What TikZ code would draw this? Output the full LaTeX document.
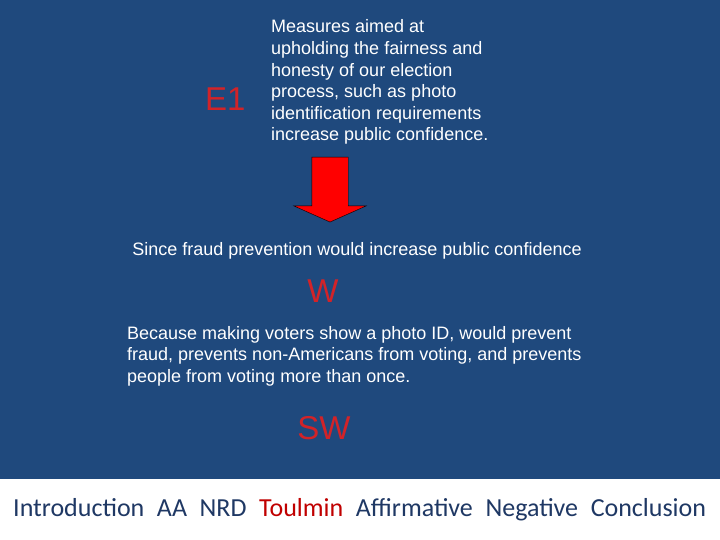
\documentclass[tikz,border=0pt]{standalone}
\usepackage{fontspec}
\setmainfont{Liberation Sans}
\newfontfamily\navfont{Carlito}
\usetikzlibrary{shapes.arrows, positioning}
\definecolor{slideBlue}{RGB}{31, 73, 125}
\definecolor{tagRed}{RGB}{210, 35, 40}
\definecolor{navBlue}{RGB}{31, 56, 100}
\definecolor{navRed}{RGB}{192, 0, 0}
\newcommand{\navgap}{\hspace{12.6pt}}
\tikzset{
    % Slide text
    bodyText/.style={
        font=\fontsize{18}{21.6}\selectfont,
        text=white,
        align=left,
        inner sep=0pt
    },
    % Toulmin part labels
    tagText/.style={font=\fontsize{33}{36}\selectfont, text=tagRed, inner sep=0pt},
    % Big block arrow
    blockArrow/.style={
        single arrow,
        shape border rotate=270,
        fill=red, draw=black, thin,
        minimum height=65pt,
        minimum width=72pt,
        single arrow head extend=18pt,
        single arrow tip angle=132,
        inner sep=18pt
    },
    navText/.style={font=\navfont\fontsize{26}{28}\selectfont, text=navBlue, inner sep=0pt}
}
\begin{document}
\begin{tikzpicture}[x=1pt, y=1pt]

    % --- Slide frame ---
    \useasboundingbox (0,0) rectangle (720,-540);
    \fill[white] (0,0) rectangle (720,-540);
    \fill[slideBlue] (0,0) rectangle (720,-479);

    % --- Claim (E1), placed by its last line ---
    \node (claim) [bodyText, anchor=base west] at (271,-141) {
        Measures aimed at \\
        upholding the fairness and \\
        honesty of our election \\
        process, such as photo \\
        identification requirements \\
        increase public confidence.
    };
    \node (tagE) [tagText, anchor=base west] at (205,-111) {E1};

    % --- Arrow down ---
    \node (down) [blockArrow] at (330,-185.5) {};

    % --- Warrant (W) ---
    \node (since) [bodyText, anchor=base] at (357,-255) {Since fraud prevention would increase public confidence};
    \node (tagW) [tagText, anchor=base] at (323,-302) {W};

    % --- Support warrant (SW) ---
    \node (because) [bodyText, anchor=base west] at (127,-382.2) {
        Because making voters show a photo ID, would prevent \\
        fraud, prevents non-Americans from voting, and prevents \\
        people from voting more than once.
    };
    \node (tagSW) [tagText, anchor=base] at (324,-439) {SW};

    % --- Navigation bar ---
    \node (nav) [navText, anchor=base west] at (13,-516.5) {
        Introduction\navgap AA\navgap NRD\navgap
        \textcolor{navRed}{Toulmin}\navgap Affirmative\navgap
        Negative\navgap Conclusion
    };

\end{tikzpicture}
\end{document}
